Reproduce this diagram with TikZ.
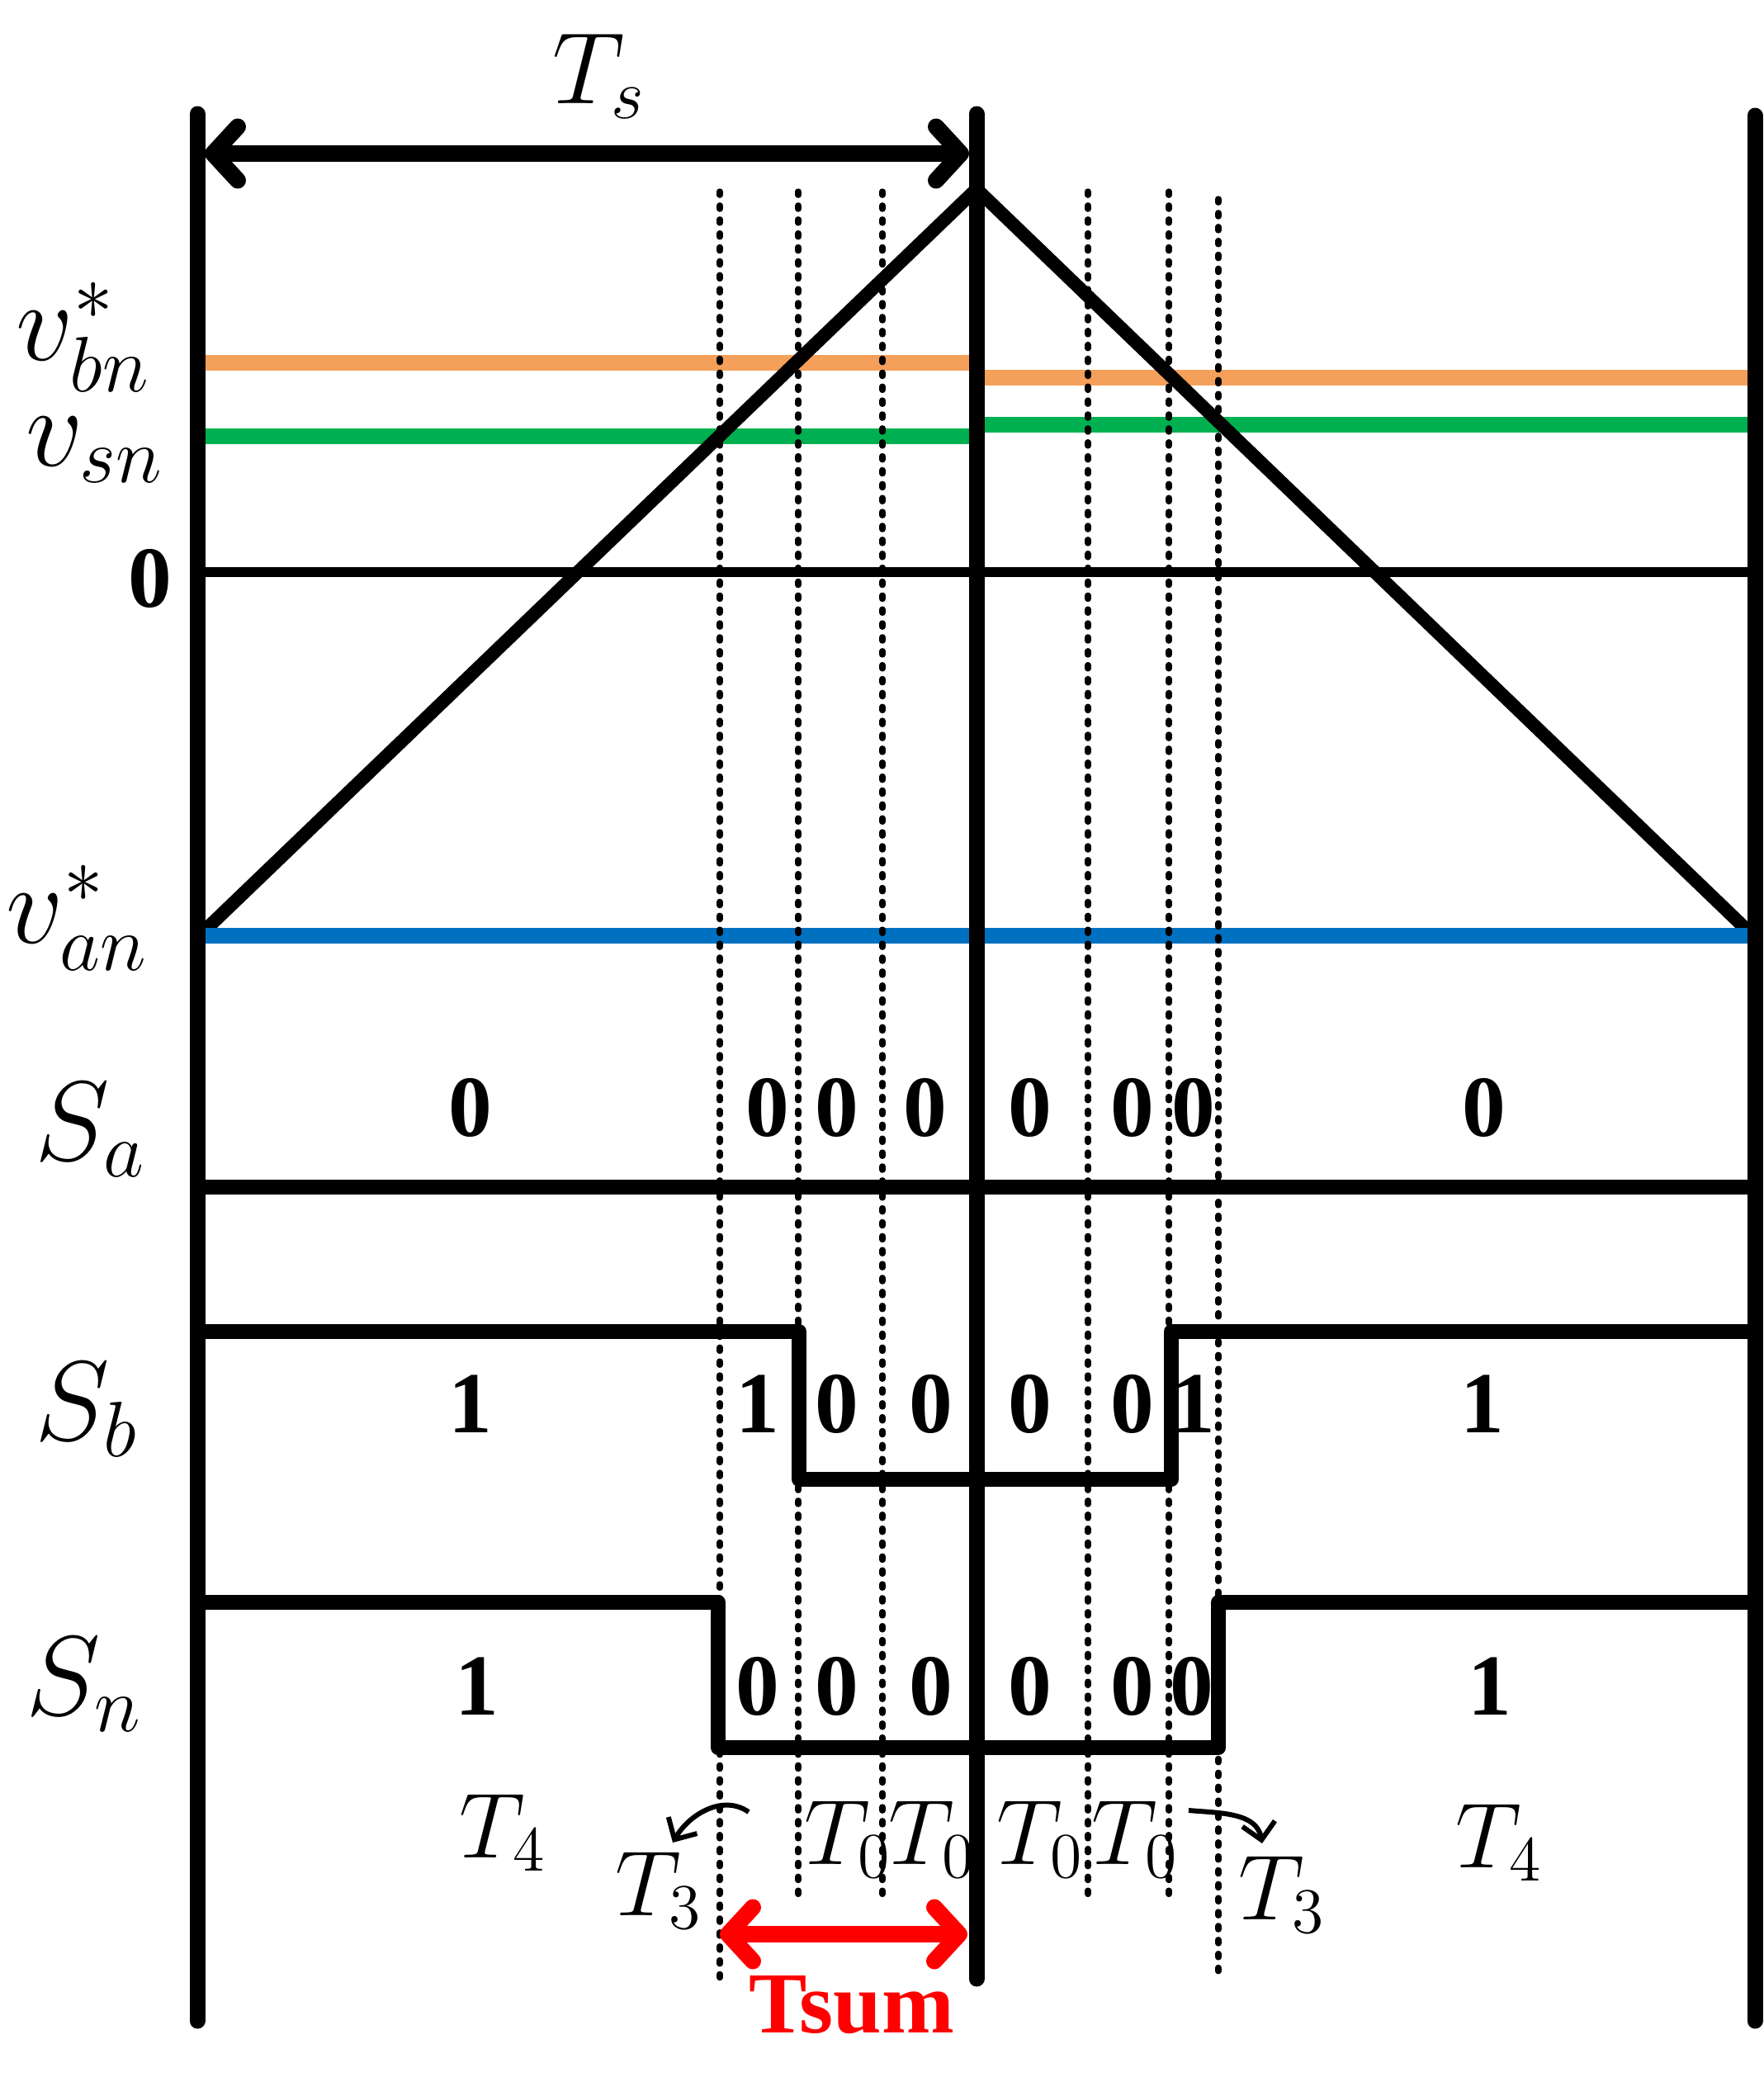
\documentclass[tikz,border=0pt]{standalone}
\usepackage{fontspec}
\newfontfamily\digitfont{Liberation Serif}
\usepackage{amsmath}
\usepackage{graphicx}
\usepackage{xcolor}
\usepackage{tikz}
\usetikzlibrary{arrows.meta,calc}

\definecolor{vbncolor}{HTML}{F4A05A}
\definecolor{vsncolor}{HTML}{00B050}
\definecolor{vancolor}{HTML}{0070C0}

% math at the largest cm size, then scaled up
\newcommand{\biglbl}[1]{\scalebox{1.88}{$#1$}}
\newcommand{\tlbl}[1]{\scalebox{1.54}{$#1$}}

\tikzset{
    axisline/.style={line width=1.9mm, line cap=round},
    swave/.style={line width=1.8mm, line join=round},
    refline/.style={line width=1.9mm},
    gridline/.style={line width=2.1pt, line cap=round, dash pattern=on 1.2pt off 3.6pt},
    mathlabel/.style={inner sep=0pt, anchor=base west, font=\fontsize{20.74}{24}\selectfont},
    bitlabel/.style={inner sep=0pt, anchor=base, font=\digitfont\bfseries\fontsize{30}{30}\selectfont},
    spanarrow/.style={line width=2mm, <->, >={Straight Barb[length=3mm,width=6.5mm,round]}},
    bendarrow/.style={line width=0.6mm, -{Straight Barb[length=2mm,width=4mm]}},
}

\begin{document}
\begin{tikzpicture}
    \useasboundingbox (0,0) rectangle (21.37,-25.39);

    % reference levels
    \draw[refline, vbncolor] (2.39,-4.39) -- (11.83,-4.39);
    \draw[refline, vbncolor] (11.83,-4.57) -- (21.26,-4.57);
    \draw[refline, vsncolor] (2.39,-5.28) -- (11.83,-5.28);
    \draw[refline, vsncolor] (11.83,-5.14) -- (21.26,-5.14);
    \draw[line width=1.2mm] (2.39,-6.93) -- (21.26,-6.93);

    % carrier
    \draw[line width=1.6mm] (2.45,-11.30) -- (11.83,-2.29) -- (21.20,-11.30);
    \draw[refline, vancolor] (2.39,-11.33) -- (21.26,-11.33);

    \foreach \x/\t/\b in {8.72/2.32/23.98, 9.67/2.32/23.03, 10.69/2.32/23.03,
                          13.18/2.32/23.03, 14.16/2.32/23.03, 14.76/2.41/23.90}
        \draw[gridline] (\x,-\t) -- (\x,-\b);

    \draw[axisline] (2.39,-1.38) -- (2.39,-24.48);
    \draw[axisline] (11.83,-1.38) -- (11.83,-23.97);
    \draw[axisline] (21.26,-1.40) -- (21.26,-24.48);

    % switching states
    \draw[swave] (2.39,-14.38) -- (21.26,-14.38);
    \draw[swave] (2.39,-16.13) -- (9.68,-16.13) -- (9.68,-17.92) -- (14.19,-17.92) -- (14.19,-16.13) -- (21.26,-16.13);
    \draw[swave] (2.39,-19.41) -- (8.70,-19.41) -- (8.70,-21.17) -- (14.76,-21.17) -- (14.76,-19.41) -- (21.26,-19.41);

    \foreach \x/\d [count=\i] in {5.70/0, 9.30/0, 10.14/0, 11.21/0, 12.48/0, 13.72/0, 14.46/0, 17.98/0}
        \node[bitlabel] (sa-\i) at (\x,-13.76) {\d};
    \foreach \x/\d [count=\i] in {5.70/1, 9.18/1, 10.14/0, 11.28/0, 12.48/0, 13.72/0, 14.46/1, 17.96/1}
        \node[bitlabel] (sb-\i) at (\x,-17.35) {\d};
    \foreach \x/\d [count=\i] in {5.78/1, 9.18/0, 10.14/0, 11.28/0, 12.48/0, 13.72/0, 14.44/0, 18.05/1}
        \node[bitlabel] (sn-\i) at (\x,-20.77) {\d};

    % left labels
    \node[mathlabel] (vbn) at (0.19,-4.36) {\biglbl{v_{bn}^{*}}};
    \node[mathlabel] (vsn) at (0.31,-5.64) {\biglbl{v_{sn}}};
    \node[bitlabel] (zero) at (1.82,-7.35) {0};
    \node[mathlabel] (van) at (0.07,-11.42) {\biglbl{v_{an}^{*}}};
    \node[mathlabel] (sa) at (0.42,-14.05) {\biglbl{S_a}};
    \node[mathlabel] (sb) at (0.42,-17.44) {\biglbl{S_b}};
    \node[mathlabel] (sn) at (0.31,-20.77) {\biglbl{S_n}};

    % intervals
    \node[mathlabel] (ts) at (6.69,-1.25) {\scalebox{1.69}{$T_s$}};
    \coordinate (tsl) at (2.48,-1.86);
    \coordinate (tsr) at (11.74,-1.86);
    \draw[spanarrow] (tsl) -- (tsr);

    \node[mathlabel] (tfourl) at (5.56,-22.50) {\tlbl{T_4}};
    \node[mathlabel] (tfourr) at (17.63,-22.62) {\tlbl{T_4}};
    \node[mathlabel] (tthreel) at (7.45,-23.20) {\tlbl{T_3}};
    \node[mathlabel] (tthreer) at (15.00,-23.25) {\tlbl{T_3}};
    \foreach \x [count=\i] in {9.74,10.76,12.07,13.22}
        \node[mathlabel] (tzero-\i) at (\x,-22.58) {\tlbl{T_0}};

    \coordinate (bendl) at (9.07,-21.95);
    \coordinate (bendr) at (14.40,-21.93);
    \draw[bendarrow] (bendl) to[out=145,in=60] (8.15,-22.32);
    \draw[bendarrow] (bendr) to[out=-5,in=100] (15.29,-22.33);

    \coordinate (suml) at (8.72,-23.43);
    \coordinate (sumr) at (11.72,-23.43);
    \draw[spanarrow, red] (suml) -- (sumr);
    \node[bitlabel, red] (tsum) at (10.32,-24.62) {Tsum};
\end{tikzpicture}
\end{document}
